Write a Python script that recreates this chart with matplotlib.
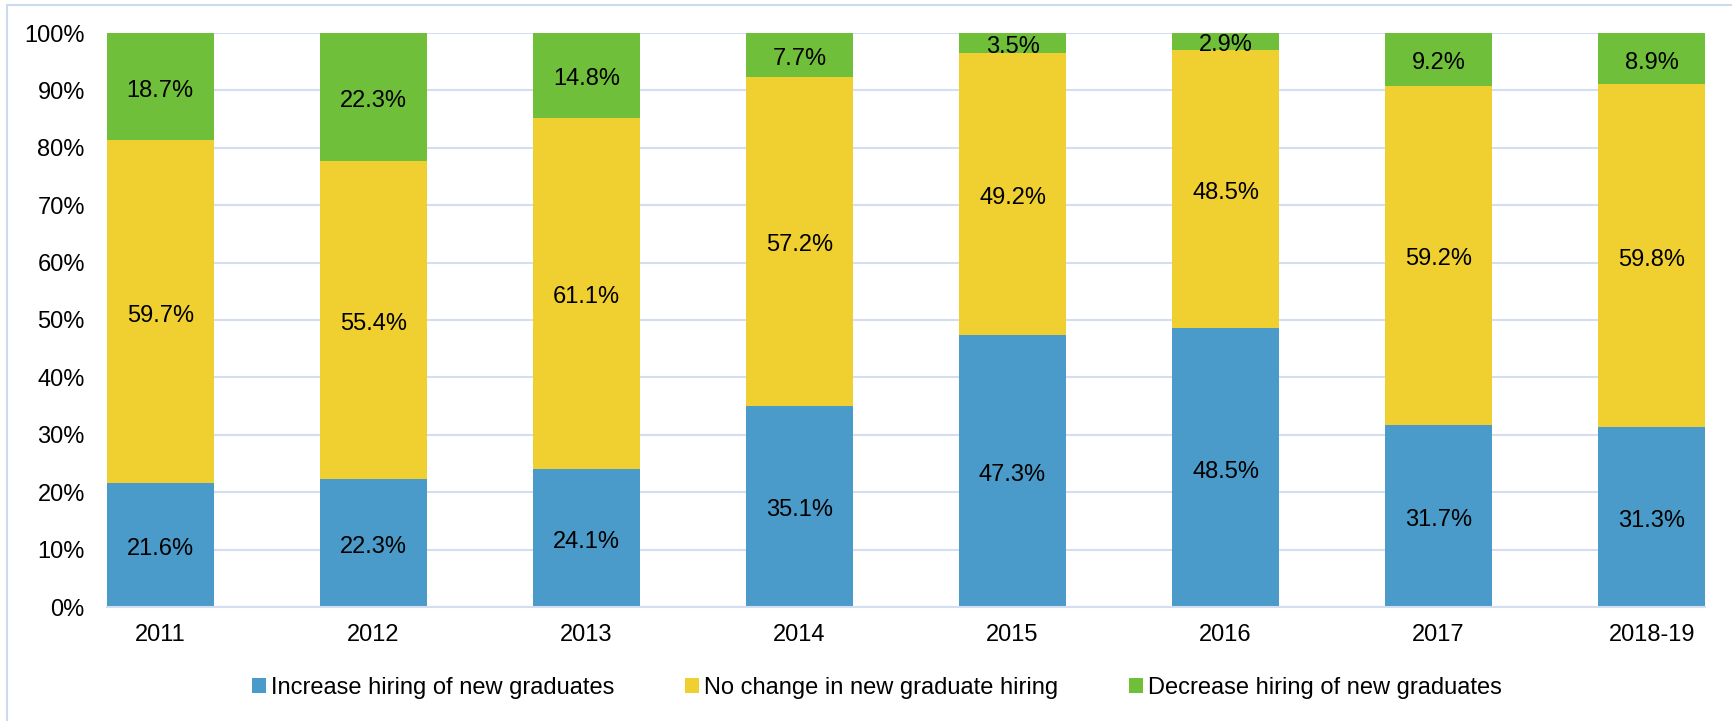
import matplotlib
matplotlib.use("Agg")
import matplotlib.pyplot as plt
import matplotlib.transforms as mtransforms
import numpy as np
from matplotlib.patches import Rectangle, Patch

plt.rcParams['font.family'] = ['Liberation Sans', 'DejaVu Sans']

categories = ["2011", "2012", "2013", "2014", "2015", "2016", "2017", "2018-19"]
increase = [21.6, 22.3, 24.1, 35.1, 47.3, 48.5, 31.7, 31.3]
no_change = [59.7, 55.4, 61.1, 57.2, 49.2, 48.5, 59.2, 59.8]
decrease = [18.7, 22.3, 14.8, 7.7, 3.5, 2.9, 9.2, 8.9]
series_names = ["Increase hiring of new graduates", "No change in new graduate hiring",
                "Decrease hiring of new graduates"]
colors = ["#4A9BC9", "#F0D030", "#6FBF3B"]
grid_color = "#D3DEF0"

W, H = 1732, 721
fig = plt.figure(figsize=(W / 100, H / 100), dpi=100)
ax = fig.add_axes([107 / W, 1 - 607 / H, (1705 - 107) / W, (607 - 33) / H])

label_tr = mtransforms.offset_copy(ax.transData, fig=fig, x=0, y=-4, units="dots")

series = [np.array(increase), np.array(no_change), np.array(decrease)]
total = series[0] + series[1] + series[2]
x = np.arange(len(categories))
bottom = np.zeros(len(categories))
for vals, col, name in zip(series, colors, series_names):
    h = vals / total * 100
    ax.bar(x, h, 0.5, bottom=bottom, color=col, label=name, zorder=2)
    for xi, b, hi, v in zip(x, bottom, h, vals):
        ax.text(xi, b + hi / 2, f"{v:.1f}%", ha="center", va="center",
                fontsize=17, color="black", zorder=3, transform=label_tr)
    bottom = bottom + h

ax.set_xlim(-0.25, len(categories) - 0.75)
ax.set_ylim(0, 100)
ax.set_yticks(np.arange(0, 101, 10))
ax.set_yticklabels([f"{v}%" for v in range(0, 101, 10)])
ax.set_xticks(x)
ax.set_xticklabels(categories)
ax.tick_params(axis="y", length=0, pad=16, labelsize=17)
ax.tick_params(axis="x", length=0, pad=12, labelsize=17)
ax.yaxis.grid(True, color=grid_color, linewidth=1.5, zorder=0)
ax.set_axisbelow(True)
for s in ["left", "right", "top"]:
    ax.spines[s].set_visible(False)
ax.spines["bottom"].set_color(grid_color)
ax.spines["bottom"].set_linewidth(1.5)

handles = [Patch(facecolor=c, edgecolor="none") for c in colors]
fig.legend(handles, series_names, loc="center", bbox_to_anchor=(877 / W, 1 - 688 / H),
           ncol=3, frameon=False, fontsize=17, handlelength=0.6, handleheight=0.6,
           handletextpad=0.2, columnspacing=3.0)

fig.patches.append(Rectangle((7 / W, -0.1), 1.2, (1 - 5 / H) + 0.1, transform=fig.transFigure,
                             fill=False, edgecolor="#CCDAEE", linewidth=1.5))

fig.savefig("out.png", dpi=100)
